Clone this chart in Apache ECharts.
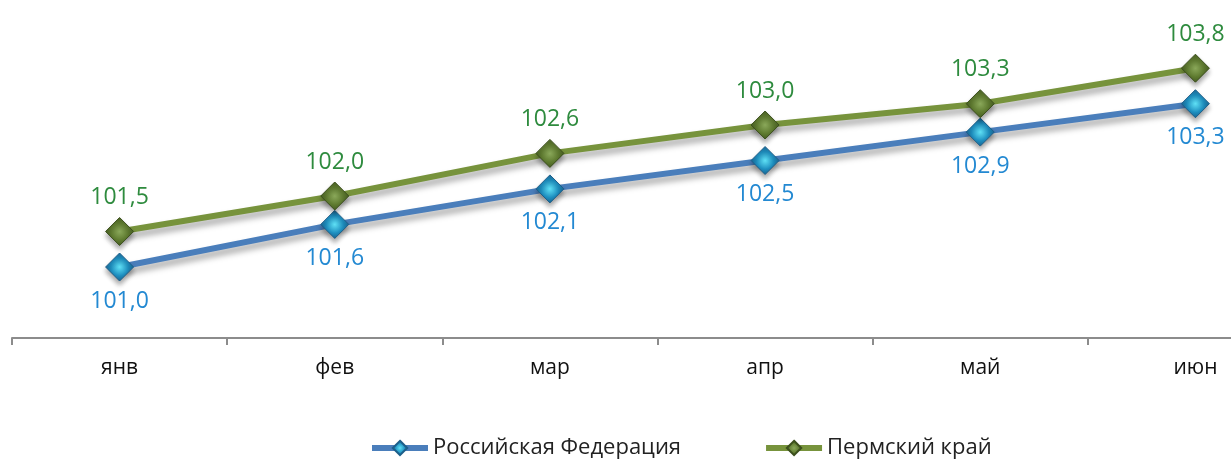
<!DOCTYPE html>
<html><head><meta charset="utf-8">
<script src="https://cdn.jsdelivr.net/npm/echarts@6/dist/echarts.min.js"></script>
<style>html,body{margin:0;padding:0;background:#fff;overflow:hidden;width:1231px;height:463px}#c{width:1303px;height:463px}</style>
</head><body><div id="c"></div>
<script>
const categories = ['янв','фев','мар','апр','май','июн'];
const rfName = 'Российская Федерация';
const permName = 'Пермский край';
const rfValues = [101.0, 101.6, 102.1, 102.5, 102.9, 103.3];
const permValues = [101.5, 102.0, 102.6, 103.0, 103.3, 103.8];

const fmt = p => p.value.toFixed(1).replace('.', ',');
const chart = echarts.init(document.getElementById('c'));
const blueMarker = {type:'radial', x:0.5, y:0.5, r:0.6, colorStops:[{offset:0,color:'#5fe0f5'},{offset:0.5,color:'#1e8fc0'},{offset:1,color:'#1a4f7a'}]};
const greenMarker = {type:'radial', x:0.5, y:0.5, r:0.6, colorStops:[{offset:0,color:'#8aa85a'},{offset:0.5,color:'#5f7b30'},{offset:1,color:'#3b4f1c'}]};
chart.setOption({
  animation:false,
  grid:{left:12, top:54, right:0, height:284},
  legend:{
    left:364, top:432, itemWidth:56, itemHeight:18, itemGap:82, itemStyle:{},
    lineStyle:{width:6},
    textStyle:{fontFamily:'Open Sans', fontSize:22, color:'#222'},
    data:[rfName, permName]
  },
  xAxis:{
    type:'category', data:categories, boundaryGap:true,
    axisLine:{lineStyle:{color:'#8c8c8c', width:2}},
    axisTick:{show:true, length:7, lineStyle:{color:'#8c8c8c', width:2}},
    axisLabel:{fontFamily:'Open Sans', fontSize:21, color:'#111', margin:20}
  },
  yAxis:{type:'value', min:100, max:104, show:false, splitLine:{show:false}},
  series:[
    {
      name:rfName, type:'line', data:rfValues,
      symbol:'diamond', symbolSize:[28,28],
      lineStyle:{color:'#4a7ebb', width:6, shadowColor:'rgba(0,0,0,0.35)', shadowBlur:6, shadowOffsetY:5, shadowOffsetX:2},
      itemStyle:{color:blueMarker, borderColor:'#1d5f8a', borderWidth:1, shadowColor:'rgba(0,0,0,0.35)', shadowBlur:5, shadowOffsetY:4},
      label:{show:true, position:'bottom', distance:8, formatter:fmt, fontFamily:'Open Sans', fontSize:23, color:'#2389d2'},
      z:2
    },
    {
      name:permName, type:'line', data:permValues,
      symbol:'diamond', symbolSize:[28,28],
      lineStyle:{color:'#77933c', width:6, shadowColor:'rgba(0,0,0,0.35)', shadowBlur:6, shadowOffsetY:5, shadowOffsetX:2},
      itemStyle:{color:greenMarker, borderColor:'#3b4f1c', borderWidth:1, shadowColor:'rgba(0,0,0,0.35)', shadowBlur:5, shadowOffsetY:4},
      label:{show:true, position:'top', distance:8, formatter:fmt, fontFamily:'Open Sans', fontSize:23, color:'#2e8b3e'},
      z:3
    }
  ]
});
</script></body></html>
